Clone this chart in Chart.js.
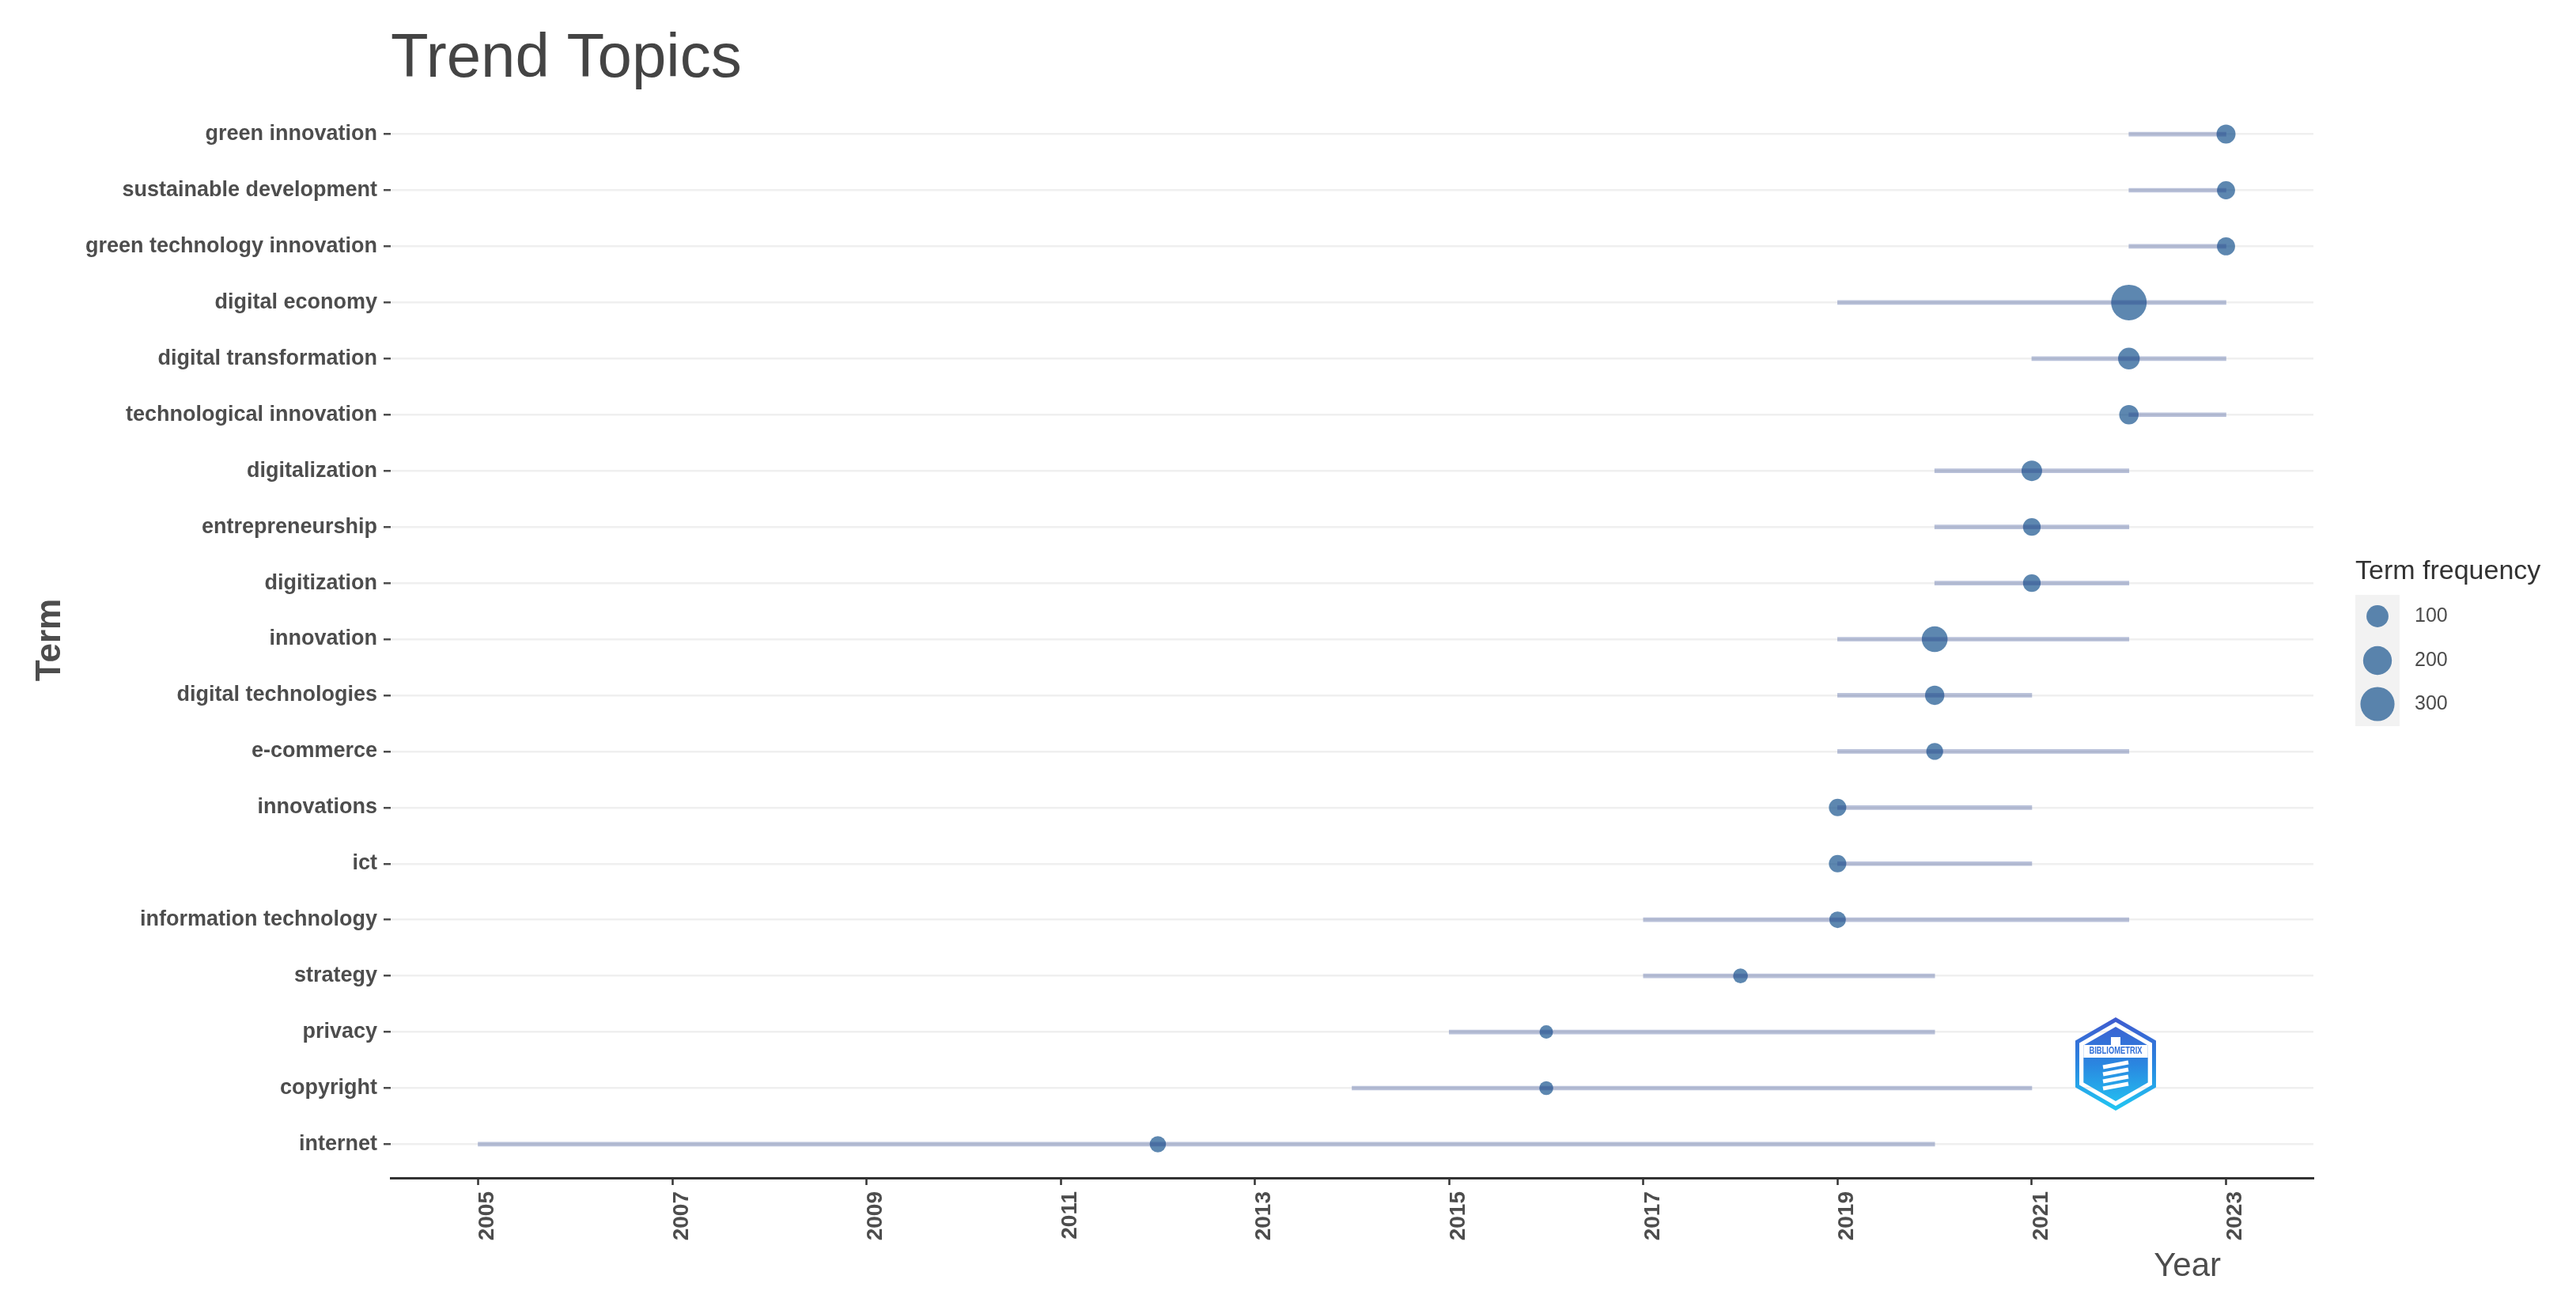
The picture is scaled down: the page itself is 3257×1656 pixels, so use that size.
<!DOCTYPE html>
<html>
<head>
<meta charset="utf-8">
<title>Trend Topics</title>
<script src="https://cdn.jsdelivr.net/npm/chart.js@4.4.1/dist/chart.umd.min.js"></script>
<style>
  html, body { margin: 0; padding: 0; background: #ffffff; }
  canvas { display: block; }
</style>
</head>
<body>
<canvas id="trend" width="3257" height="1656"></canvas>
<script>
// ---- DATA ----
const terms = [
  'green innovation', 'sustainable development', 'green technology innovation',
  'digital economy', 'digital transformation', 'technological innovation',
  'digitalization', 'entrepreneurship', 'digitization', 'innovation',
  'digital technologies', 'e-commerce', 'innovations', 'ict',
  'information technology', 'strategy', 'privacy', 'copyright', 'internet'
];
const startYear  = [2022, 2022, 2022, 2019, 2021, 2022, 2020, 2020, 2020, 2019, 2019, 2019, 2019, 2019, 2017, 2017, 2015, 2014, 2005];
const endYear    = [2023, 2023, 2023, 2023, 2023, 2023, 2022, 2022, 2022, 2022, 2021, 2022, 2021, 2021, 2022, 2020, 2020, 2021, 2020];
const medianYear = [2023, 2023, 2023, 2022, 2022, 2022, 2021, 2021, 2021, 2020, 2020, 2020, 2019, 2019, 2019, 2018, 2016, 2016, 2012];
const termFreq   = [63, 53, 53, 330, 95, 67, 81, 49, 49, 153, 67, 40, 46, 46, 38, 21, 10, 14, 35];
const yearTicks  = [2005, 2007, 2009, 2011, 2013, 2015, 2017, 2019, 2021, 2023];
const legendFreq = [100, 200, 300];

const FONT = "'Liberation Sans', Arial, Helvetica, sans-serif";
const TEXT = '#4D4D4D';
const POINT = 'rgba(16, 78, 139, 0.68)';
const RANGE = 'rgba(39, 64, 139, 0.32)';

Chart.defaults.font.family = FONT;

// size scale: area linear between smallest and largest frequency
const fMin = Math.min(...termFreq), fMax = Math.max(...termFreq);
const rMin = 8.5, rMax = 22.5;
function radius(f) {
  const t = (f - fMin) / (fMax - fMin);
  return Math.sqrt(rMin * rMin + t * (rMax * rMax - rMin * rMin));
}

// ---- decorations: title, axis titles, size legend, logo ----
const decor = {
  id: 'decor',
  afterDraw(chart) {
    const ctx = chart.ctx;
    ctx.save();

    // title
    ctx.fillStyle = '#444444';
    ctx.font = `78px ${FONT}`;
    ctx.textAlign = 'left';
    ctx.textBaseline = 'alphabetic';
    ctx.fillText('Trend Topics', 494, 97);

    // x title
    ctx.fillStyle = TEXT;
    ctx.font = `42px ${FONT}`;
    ctx.textAlign = 'right';
    ctx.fillText('Year', 2808, 1613);

    // y title
    ctx.save();
    ctx.translate(76, 809);
    ctx.rotate(-Math.PI / 2);
    ctx.font = `bold 44px ${FONT}`;
    ctx.textAlign = 'center';
    ctx.textBaseline = 'alphabetic';
    ctx.fillText('Term', 0, 0);
    ctx.restore();

    // size legend
    ctx.fillStyle = '#333333';
    ctx.font = `34px ${FONT}`;
    ctx.textAlign = 'left';
    ctx.fillText('Term frequency', 2978, 732);
    ctx.fillStyle = '#F2F2F2';
    ctx.fillRect(2978, 752, 56, 166);
    const keyY = [779, 835, 890];
    legendFreq.forEach((f, i) => {
      ctx.beginPath();
      ctx.arc(3006, keyY[i], radius(f), 0, Math.PI * 2);
      ctx.fillStyle = POINT;
      ctx.fill();
      ctx.fillStyle = TEXT;
      ctx.font = `25px ${FONT}`;
      ctx.textBaseline = 'middle';
      ctx.fillText(String(f), 3053, keyY[i]);
    });

    // bibliometrix logo
    const cx = 2675, cy = 1345;
    const hex = (r) => {
      ctx.beginPath();
      for (let k = 0; k < 6; k++) {
        const a = -Math.PI / 2 + k * Math.PI / 3;
        const px = cx + r * Math.cos(a), py = cy + r * Math.sin(a);
        k ? ctx.lineTo(px, py) : ctx.moveTo(px, py);
      }
      ctx.closePath();
    };
    const grad = ctx.createLinearGradient(0, cy - 58, 0, cy + 58);
    grad.addColorStop(0, '#3F5BCF');
    grad.addColorStop(0.5, '#2A86E0');
    grad.addColorStop(1, '#22C6F2');
    hex(56);
    ctx.lineWidth = 5;
    ctx.strokeStyle = grad;
    ctx.stroke();
    hex(47);
    ctx.fillStyle = grad;
    ctx.fill();
    ctx.save();
    hex(47);
    ctx.clip();
    ctx.fillStyle = '#ffffff';
    ctx.fillRect(cx - 60, cy - 24, 120, 16);
    ctx.fillStyle = '#2F6FD8';
    ctx.font = `bold 11px ${FONT}`;
    ctx.textAlign = 'center';
    ctx.textBaseline = 'middle';
    ctx.save();
    ctx.translate(cx, cy - 16);
    ctx.scale(0.85, 1.1);
    ctx.fillText('BIBLIOMETRIX', 0, 0);
    ctx.restore();
    ctx.fillStyle = '#ffffff';
    ctx.fillRect(cx - 6, cy - 34, 12, 10);
    ctx.lineWidth = 5;
    ctx.strokeStyle = '#ffffff';
    for (let k = 0; k < 4; k++) {
      ctx.beginPath();
      ctx.moveTo(cx - 16, cy + 4 + k * 9);
      ctx.lineTo(cx + 16, cy - 2 + k * 9);
      ctx.stroke();
    }
    ctx.restore();

    ctx.restore();
  }
};

new Chart(document.getElementById('trend'), {
  type: 'bar',
  data: {
    datasets: [
      {
        type: 'bubble',
        label: 'Term frequency',
        data: terms.map((t, i) => ({ x: medianYear[i], y: i, r: radius(termFreq[i]) })),
        backgroundColor: POINT,
        borderWidth: 0,
        hoverRadius: 0,
        order: 2
      },
      {
        type: 'bar',
        label: 'Year range',
        indexAxis: 'y',
        data: terms.map((t, i) => ({ x: [startYear[i], endYear[i]], y: i })),
        backgroundColor: RANGE,
        borderWidth: 0,
        barThickness: 5,
        order: 1
      }
    ]
  },
  options: {
    responsive: false,
    animation: false,
    devicePixelRatio: 1,
    layout: { padding: { top: 127, right: 332, left: 0, bottom: 0 } },
    plugins: {
      legend: { display: false },
      title: { display: false },
      tooltip: { enabled: false }
    },
    scales: {
      x: {
        type: 'linear',
        offset: false,
        min: 2004.1,
        max: 2023.9,
        afterBuildTicks: s => { s.ticks = yearTicks.map(v => ({ value: v })); },
        afterFit: s => { s.height = 167; },
        ticks: {
          autoSkip: false,
          minRotation: 90,
          maxRotation: 90,
          padding: 8,
          labelOffset: 12,
          color: TEXT,
          font: { size: 28, weight: 'bold' },
          callback: v => String(v)
        },
        grid: { offset: false, drawOnChartArea: false, tickLength: 9, tickColor: '#333333', tickWidth: 2.5 },
        border: { display: true, color: '#333333', width: 3 }
      },
      y: {
        type: 'linear',
        offset: false,
        min: -0.6,
        max: 18.6,
        reverse: true,
        afterBuildTicks: s => { s.ticks = terms.map((t, i) => ({ value: i })); },
        afterFit: s => { s.width = 494; },
        ticks: {
          autoSkip: false,
          padding: 8,
          color: TEXT,
          font: { size: 27, weight: 'bold' },
          callback: v => terms[v]
        },
        grid: { offset: false, color: '#EFEFEF', lineWidth: 2.5, tickLength: 9, tickColor: '#4D4D4D', tickWidth: 2.5 },
        border: { display: false }
      }
    }
  },
  plugins: [decor]
});
</script>
</body>
</html>
